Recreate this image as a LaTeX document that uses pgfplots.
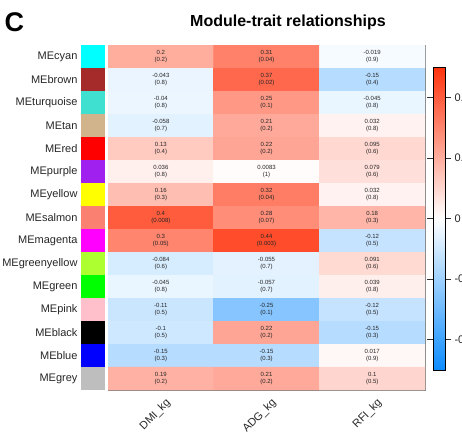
\documentclass[border=0pt]{standalone}
\usepackage{pgfplots}
\pgfplotsset{compat=1.18}
\usepackage{pgfplotstable}
\usepackage{fontspec}
\setmainfont{Liberation Sans}

\definecolor{mcyan}{RGB}{0,255,255}
\definecolor{mbrown}{RGB}{165,42,42}
\definecolor{mturquoise}{RGB}{64,224,208}
\definecolor{mtan}{RGB}{210,180,140}
\definecolor{mred}{RGB}{255,0,0}
\definecolor{mpurple}{RGB}{160,32,240}
\definecolor{myellow}{RGB}{255,255,0}
\definecolor{msalmon}{RGB}{250,128,114}
\definecolor{mmagenta}{RGB}{255,0,255}
\definecolor{mgreenyellow}{RGB}{173,255,47}
\definecolor{mgreen}{RGB}{0,255,0}
\definecolor{mpink}{RGB}{255,192,203}
\definecolor{mblack}{RGB}{0,0,0}
\definecolor{mblue}{RGB}{0,0,255}
\definecolor{mgrey}{RGB}{190,190,190}
\definecolor{framegray}{RGB}{128,128,128}

\pgfplotstableread{
x y r p
0 0 0.2 (0.2)
1 0 0.31 (0.04)
2 0 -0.019 (0.9)
0 1 -0.043 (0.8)
1 1 0.37 (0.02)
2 1 -0.15 (0.4)
0 2 -0.04 (0.8)
1 2 0.25 (0.1)
2 2 -0.045 (0.8)
0 3 -0.058 (0.7)
1 3 0.21 (0.2)
2 3 0.032 (0.8)
0 4 0.13 (0.4)
1 4 0.22 (0.2)
2 4 0.095 (0.6)
0 5 0.036 (0.8)
1 5 0.0083 (1)
2 5 0.079 (0.6)
0 6 0.16 (0.3)
1 6 0.32 (0.04)
2 6 0.032 (0.8)
0 7 0.4 (0.008)
1 7 0.28 (0.07)
2 7 0.18 (0.3)
0 8 0.3 (0.05)
1 8 0.44 (0.003)
2 8 -0.12 (0.5)
0 9 -0.084 (0.6)
1 9 -0.055 (0.7)
2 9 0.091 (0.6)
0 10 -0.045 (0.8)
1 10 -0.057 (0.7)
2 10 0.039 (0.8)
0 11 -0.11 (0.5)
1 11 -0.25 (0.1)
2 11 -0.12 (0.5)
0 12 -0.1 (0.5)
1 12 0.22 (0.2)
2 12 -0.15 (0.3)
0 13 -0.15 (0.3)
1 13 -0.15 (0.3)
2 13 0.017 (0.9)
0 14 0.19 (0.2)
1 14 0.21 (0.2)
2 14 0.1 (0.5)
}\cells

\begin{document}
\begin{tikzpicture}
\useasboundingbox (0,0) rectangle (462pt,434pt);
\clip (0,0) rectangle (462pt,434pt);

% module colour column
\begin{axis}[
  at={(81pt,44pt)}, anchor=south west,
  width=24pt, height=345pt, scale only axis,
  xmin=0, xmax=1, ymin=-0.5, ymax=14.5, y dir=reverse,
  axis line style={draw=none},
  xtick=\empty, ytick={0,1,...,14},
  yticklabels={MEcyan,MEbrown,MEturquoise,MEtan,MEred,MEpurple,MEyellow,MEsalmon,MEmagenta,MEgreenyellow,MEgreen,MEpink,MEblack,MEblue,MEgrey},
  major tick length=0pt,
  yticklabel style={font=\fontsize{11}{13}\selectfont, text=black!85},
]
\addplot[fill=mcyan, draw=none] coordinates {(0,-0.5) (1,-0.5) (1,0.5) (0,0.5)} --cycle;
\addplot[fill=mbrown, draw=none] coordinates {(0,0.5) (1,0.5) (1,1.5) (0,1.5)} --cycle;
\addplot[fill=mturquoise, draw=none] coordinates {(0,1.5) (1,1.5) (1,2.5) (0,2.5)} --cycle;
\addplot[fill=mtan, draw=none] coordinates {(0,2.5) (1,2.5) (1,3.5) (0,3.5)} --cycle;
\addplot[fill=mred, draw=none] coordinates {(0,3.5) (1,3.5) (1,4.5) (0,4.5)} --cycle;
\addplot[fill=mpurple, draw=none] coordinates {(0,4.5) (1,4.5) (1,5.5) (0,5.5)} --cycle;
\addplot[fill=myellow, draw=none] coordinates {(0,5.5) (1,5.5) (1,6.5) (0,6.5)} --cycle;
\addplot[fill=msalmon, draw=none] coordinates {(0,6.5) (1,6.5) (1,7.5) (0,7.5)} --cycle;
\addplot[fill=mmagenta, draw=none] coordinates {(0,7.5) (1,7.5) (1,8.5) (0,8.5)} --cycle;
\addplot[fill=mgreenyellow, draw=none] coordinates {(0,8.5) (1,8.5) (1,9.5) (0,9.5)} --cycle;
\addplot[fill=mgreen, draw=none] coordinates {(0,9.5) (1,9.5) (1,10.5) (0,10.5)} --cycle;
\addplot[fill=mpink, draw=none] coordinates {(0,10.5) (1,10.5) (1,11.5) (0,11.5)} --cycle;
\addplot[fill=mblack, draw=none] coordinates {(0,11.5) (1,11.5) (1,12.5) (0,12.5)} --cycle;
\addplot[fill=mblue, draw=none] coordinates {(0,12.5) (1,12.5) (1,13.5) (0,13.5)} --cycle;
\addplot[fill=mgrey, draw=none] coordinates {(0,13.5) (1,13.5) (1,14.5) (0,14.5)} --cycle;
\end{axis}

% heatmap
\begin{axis}[
  at={(108pt,44pt)}, anchor=south west,
  width=317pt, height=345pt, scale only axis,
  xmin=-0.5, xmax=2.5, ymin=-0.5, ymax=14.5, y dir=reverse,
  axis line style={draw=framegray, line width=0.9pt},
  xtick={0,1,2}, xticklabels={DMI\_kg,ADG\_kg,RFI\_kg},
  ytick=\empty, major tick length=0pt,
  xticklabel style={font=\fontsize{11}{13}\selectfont, text=black!85, rotate=45, anchor=north east, xshift=1pt, yshift=-5pt},
  colormap={bwr}{rgb255=(13,140,255) rgb255=(255,255,255) rgb255=(255,51,13)},
  point meta min=-0.5, point meta max=0.5,
  colorbar shift/.style={},
  colorbar,
  colorbar style={
    at={(parent axis.north east)}, anchor=north west,
    xshift=8pt, yshift=-22pt,
    width=12pt, height=303pt, scale only axis,
    ytick={-0.4,-0.2,0,0.2,0.4},
    yticklabels={-0.4,-0.2,0,0.2,0.4},
    tick align=outside, major tick length=6pt,
    tick style={black!80, line width=0.6pt},
    axis line style={black, line width=0.7pt},
    yticklabel style={font=\fontsize{11}{13}\selectfont, text=black!85},
  },
]
\addplot[matrix plot*, mesh/cols=3, point meta=explicit] table[x=x, y=y, meta=r] {\cells};
\addplot[only marks, mark=none, point meta=explicit symbolic,
  nodes near coords={\pgfplotspointmeta},
  nodes near coords style={font=\fontsize{6}{7}\selectfont, text=black!85, anchor=center, yshift=3.7pt}]
  table[x=x, y=y, meta=r] {\cells};
\addplot[only marks, mark=none, point meta=explicit symbolic,
  nodes near coords={\pgfplotspointmeta},
  nodes near coords style={font=\fontsize{6}{7}\selectfont, text=black!85, anchor=center, yshift=-3.7pt}]
  table[x=x, y=y, meta=p] {\cells};
\end{axis}

\node[anchor=base, font=\bfseries\fontsize{16}{19}\selectfont] at (288pt,407pt) {Module-trait relationships};
\node[anchor=base west, inner sep=0pt, font=\bfseries\fontsize{27}{30}\selectfont] at (4.5pt,402pt) {C};
\end{tikzpicture}
\end{document}
